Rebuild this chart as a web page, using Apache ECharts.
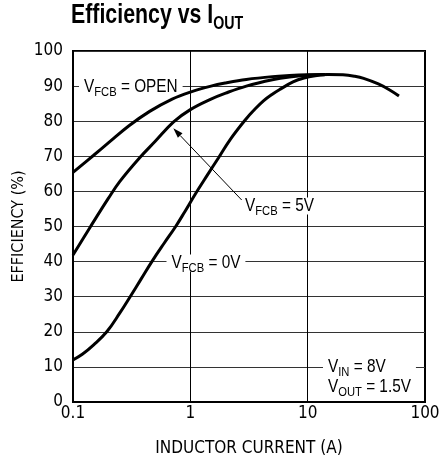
<!DOCTYPE html>
<html><head><meta charset="utf-8">
<script src="https://cdn.jsdelivr.net/npm/echarts@6/dist/echarts.min.js"></script>
<style>html,body{margin:0;padding:0;background:#fff}#c{width:440px;height:462px}</style>
</head><body><div id="c"></div>
<script>
// ---- data ----
const xTickLabels = ['0.1', '1', '10', '100'];
const yTickLabels = ['0','10','20','30','40','50','60','70','80','90','100'];

const openCurrent = [0.1, 0.15, 0.2, 0.3, 0.45, 0.7, 1, 1.5, 2, 3, 5, 7, 10, 15, 20, 25, 30, 40, 50, 60];
const openEff     = [65.4, 70.3, 73.8, 78.7, 82.8, 86.3, 88.3, 90.0, 90.9, 91.9, 92.7, 93.0, 93.2, 93.3, 93.2, 92.8, 92.2, 90.6, 88.9, 87.2];

const v5Current = [0.1, 0.14, 0.2, 0.25, 0.37, 0.5, 0.72, 1, 1.5, 2, 3, 5, 7, 10, 14];
const v5Eff     = [41.9, 49.8, 58.0, 62.8, 69.6, 74.2, 79.8, 83.3, 86.3, 88.0, 90.0, 91.8, 92.6, 93.1, 93.3];

const v0Current = [0.1, 0.12, 0.15, 0.194, 0.25, 0.307, 0.38, 0.47, 0.6, 0.75, 0.9, 1.11, 1.4, 1.74, 2.2, 2.96, 3.5, 4.2, 5, 5.9, 7.5, 9.3, 12, 14];
const v0Eff     = [12.0, 13.6, 16.3, 20.0, 25.3, 30.0, 35.0, 40.0, 45.3, 50.0, 54.3, 59.4, 64.7, 69.6, 74.9, 80.5, 83.2, 85.8, 87.7, 89.2, 91.2, 92.3, 93.0, 93.2];

const AXFONT = '"DejaVu Sans Condensed", "DejaVu Sans", sans-serif';
const TXFONT = '"Liberation Sans", Arial, sans-serif';
const pairs = (xs, ys) => xs.map((x, i) => [x, ys[i]]);

const chart = echarts.init(document.getElementById('c'), null, {renderer: 'canvas'});

const lineSeries = (name, data) => ({
  name, type: 'line', data, smooth: 0.4, showSymbol: false, symbol: 'none',
  lineStyle: {color: '#000', width: 3}, z: 5, animation: false
});

chart.setOption({
  animation: false,
  backgroundColor: '#fff',
  grid: {left: 73, top: 51, width: 352, height: 351, show: true, borderColor: '#000', borderWidth: 2,
         backgroundColor: 'transparent', containLabel: false, outerBoundsMode: 'none'},
  xAxis: {
    type: 'log', logBase: 10, min: 0.1, max: 100,
    name: 'INDUCTOR CURRENT (A)', nameLocation: 'middle', nameGap: 38, nameMoveOverlap: false,
    nameTextStyle: {fontFamily: AXFONT, fontSize: 17, color: '#000'},
    axisLine: {show: true, lineStyle: {color: '#000', width: 2}},
    axisTick: {show: false},
    axisLabel: {fontFamily: AXFONT, fontSize: 17, color: '#000', margin: 3,
      formatter: v => xTickLabels[Math.round(Math.log10(v)) + 1]},
    splitLine: {show: true, lineStyle: {color: '#000', width: 1}},
    minorTick: {show: false}, minorSplitLine: {show: false}
  },
  yAxis: {
    type: 'value', min: 0, max: 100, interval: 10,
    name: 'EFFICIENCY (%)', nameLocation: 'middle', nameGap: 46, nameMoveOverlap: false,
    nameTextStyle: {fontFamily: AXFONT, fontSize: 16, color: '#000'},
    axisLine: {show: true, lineStyle: {color: '#000', width: 2}},
    axisTick: {show: false},
    axisLabel: {fontFamily: AXFONT, fontSize: 17, color: '#000', margin: 10,
      formatter: v => yTickLabels[Math.round(v / 10)]},
    splitLine: {show: true, lineStyle: {color: '#333', width: 1}}
  },
  series: [
    lineSeries('VFCB = OPEN', pairs(openCurrent, openEff)),
    lineSeries('VFCB = 5V', pairs(v5Current, v5Eff)),
    lineSeries('VFCB = 0V', pairs(v0Current, v0Eff))
  ]
});

// ---- annotations ----
const rich = {
  m: {fontFamily: TXFONT, fontSize: 18.5, lineHeight: 17, fill: '#000', verticalAlign: 'middle'},
  s: {fontFamily: TXFONT, fontSize: 13.5, lineHeight: 17, height: 10, padding: [10, 0, 0, 0],
      fill: '#000', verticalAlign: 'middle'},
  m2: {fontFamily: TXFONT, fontSize: 18.5, lineHeight: 20, fill: '#000', verticalAlign: 'middle'},
  s2: {fontFamily: TXFONT, fontSize: 13.5, lineHeight: 20, height: 10, padding: [10, 0, 0, 0],
       fill: '#000', verticalAlign: 'middle'},
  t: {fontFamily: TXFONT, fontSize: 27, fontWeight: 'bold', lineHeight: 30, fill: '#000', verticalAlign: 'middle'},
  ts: {fontFamily: TXFONT, fontSize: 18, fontWeight: 'bold', lineHeight: 30, height: 12, padding: [16, 0, 0, 0],
       fill: '#000', verticalAlign: 'middle'}
};
const label = (x, y, text) => ({
  type: 'text', x, y, z: 1, scaleX: 0.83,
  style: {text, rich, textAlign: 'left', textVerticalAlign: 'middle',
          backgroundColor: '#fff', padding: [0, 6, 0, 6]}
});

// arrow from the 5V label to its curve
const tail = [241.7, 200], tip = [173.3, 128.3];
const dx = tip[0] - tail[0], dy = tip[1] - tail[1], L = Math.hypot(dx, dy);
const ux = dx / L, uy = dy / L, hl = 10, hw = 3.2;
const bx = tip[0] - ux * hl, by = tip[1] - uy * hl;

chart.setOption({
  graphic: [
    {type: 'text', x: 71, y: 1, z: 20, scaleX: 0.79,
     style: {text: '{t|Efficiency vs I}{ts|OUT}', rich, textAlign: 'left', textVerticalAlign: 'top'}},
    label(79, 87, '{m|V}{s|FCB}{m| = OPEN}'),
    label(240, 206, '{m|V}{s|FCB}{m| = 5V}'),
    label(166.5, 263, '{m|V}{s|FCB}{m| = 0V}'),
    label(323, 377, '{m2|V}{s2|IN}{m2| = 8V}\n{m2|V}{s2|OUT}{m2| = 1.5V}'),
    {type: 'line', z: 21, shape: {x1: tail[0], y1: tail[1], x2: bx, y2: by},
     style: {stroke: '#000', lineWidth: 1}},
    {type: 'polygon', z: 21,
     shape: {points: [tip, [bx - uy * hw, by + ux * hw], [bx + uy * hw, by - ux * hw]]},
     style: {fill: '#000'}}
  ]
});
</script></body></html>
